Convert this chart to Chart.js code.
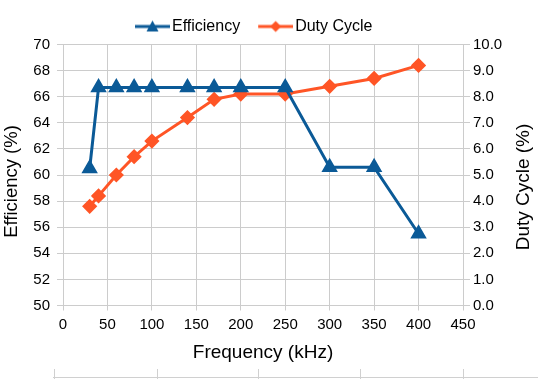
<!DOCTYPE html>
<html><head><meta charset="utf-8">
<script src="https://cdn.jsdelivr.net/npm/chart.js@4"></script>
<style>
html,body{margin:0;padding:0;background:#fff;}
#wrap{position:relative;width:538px;height:379px;}
canvas{position:absolute;left:0;top:0;}
.hl{position:absolute;left:53px;top:377px;width:485px;height:1px;background:#d0d0d0;}
.vl{position:absolute;top:369px;width:1px;height:10px;background:#d0d0d0;}
</style></head>
<body><div id="wrap"><canvas id="c" width="538" height="379"></canvas>
<div class="hl"></div>
<div class="vl" style="left:54px"></div><div class="vl" style="left:157px"></div><div class="vl" style="left:258px"></div><div class="vl" style="left:360px"></div><div class="vl" style="left:463px"></div>
</div>
<script>
const frequencies = [30, 40, 60, 80, 100, 140, 170, 200, 250, 300, 350, 400];
const efficiency  = [60.5, 66.7, 66.7, 66.7, 66.7, 66.7, 66.7, 66.7, 66.7, 60.6, 60.6, 55.5];
const dutyCycle   = [3.8, 4.2, 5.0, 5.7, 6.3, 7.2, 7.9, 8.1, 8.1, 8.4, 8.7, 9.2];
const seriesNames = ['Efficiency', 'Duty Cycle'];
const xTitle = 'Frequency (kHz)';
const yTitle = 'Efficiency (%)';
const y1Title = 'Duty Cycle (%)';

const BLUE = '#0b5a97', ORANGE = '#ff5526', GRID = '#cccccc';
const FONT = 'Liberation Sans, Arial, Helvetica, sans-serif';

// legend icon: visible line 35px, starts 14px into a 49px-wide image
function legendIcon(color, style){
  const cv = document.createElement('canvas');
  cv.width = 49; cv.height = 14;
  const g = cv.getContext('2d');
  g.strokeStyle = color; g.fillStyle = color; g.lineWidth = 3;
  g.beginPath(); g.moveTo(14,7); g.lineTo(49,7); g.stroke();
  g.beginPath();
  const c = 14 + 17.5;
  if(style==='tri'){ g.moveTo(c,1); g.lineTo(c+6,12); g.lineTo(c-6,12); }
  else { g.moveTo(c,1.5); g.lineTo(c+5.5,7); g.lineTo(c,12.5); g.lineTo(c-5.5,7); }
  g.closePath(); g.fill();
  return cv;
}
const icons = [legendIcon(BLUE,'tri'), legendIcon(ORANGE,'dia')];

const pts = (ys) => frequencies.map((x,i)=>({x:x, y:ys[i]}));

const legendShift = {
  id: 'legendShift',
  afterLayout(chart){
    if (chart.legend) { chart.legend.right = 499.5; chart.legend.width = chart.legend.right - chart.legend.left; }
  }
};

const sideTitles = {
  id: 'sideTitles',
  afterDraw(chart){
    const ctx = chart.ctx;
    ctx.save();
    ctx.fillStyle = '#000';
    ctx.textAlign = 'center';
    ctx.textBaseline = 'middle';
    ctx.font = '18.5px ' + FONT;
    ctx.translate(11.5, 181.5); ctx.rotate(-Math.PI/2);
    ctx.fillText(yTitle, 0, 0);
    ctx.restore();
    ctx.save();
    ctx.fillStyle = '#000';
    ctx.textAlign = 'center';
    ctx.textBaseline = 'middle';
    ctx.font = '19px ' + FONT;
    ctx.translate(524, 187); ctx.rotate(-Math.PI/2);
    ctx.fillText(y1Title, 0, 0);
    ctx.restore();
  }
};

new Chart(document.getElementById('c'), {
  type: 'line',
  data: { datasets: [
    { label: seriesNames[0], data: pts(efficiency), yAxisID: 'y', borderColor: BLUE, backgroundColor: BLUE,
      borderWidth: 3, pointStyle: 'triangle', pointRadius: 6.5, pointHoverRadius: 6.5, tension: 0 },
    { label: seriesNames[1], data: pts(dutyCycle), yAxisID: 'y1', borderColor: ORANGE, backgroundColor: ORANGE,
      borderWidth: 3, pointStyle: 'rectRot', pointRadius: 5.5, pointHoverRadius: 5.5, tension: 0 }
  ]},
  plugins: [legendShift, sideTitles],
  options: {
    responsive: false, animation: false,
    layout: { padding: { left: 0, right: 0, top: 4, bottom: 15 } },
    plugins: {
      tooltip: { enabled: false },
      legend: {
        position: 'top',
        labels: {
          usePointStyle: true, pointStyleWidth: 37, padding: 10,
          color: '#000', font: { family: FONT, size: 16 },
          generateLabels: (chart) => chart.data.datasets.map((d,i)=>({
            text: d.label, pointStyle: icons[i], fillStyle: d.borderColor, strokeStyle: d.borderColor,
            lineWidth: 0, hidden: false, datasetIndex: i, fontColor: '#000'
          }))
        }
      }
    },
    scales: {
      x: {
        type: 'linear', min: 0, max: 450,
        ticks: { stepSize: 50, color: '#000', font: { family: FONT, size: 15 }, padding: 5 },
        grid: { color: GRID, tickLength: 5, tickColor: GRID },
        border: { color: GRID },
        title: { display: true, text: xTitle, color: '#000', font: { family: FONT, size: 19 }, padding: { top: 0, bottom: 0 } },
        afterFit: (s) => { s.height = 58.5; }
      },
      y: {
        position: 'left', min: 50, max: 70,
        ticks: { stepSize: 2, color: '#000', font: { family: FONT, size: 15 }, padding: 7 },
        grid: { color: GRID, tickLength: 6, tickColor: GRID },
        border: { color: GRID },
        afterFit: (s) => { s.width = 63; s.paddingTop = 44.5; }
      },
      y1: {
        position: 'right', min: 0, max: 10,
        ticks: { stepSize: 1, color: '#000', font: { family: FONT, size: 15 }, padding: 3,
                 callback: (v) => Number(v).toFixed(1) },
        grid: { drawOnChartArea: false, color: GRID, tickLength: 7, tickColor: GRID },
        border: { color: GRID },
        afterFit: (s) => { s.width = 75; }
      }
    }
  }
});
</script></body></html>
